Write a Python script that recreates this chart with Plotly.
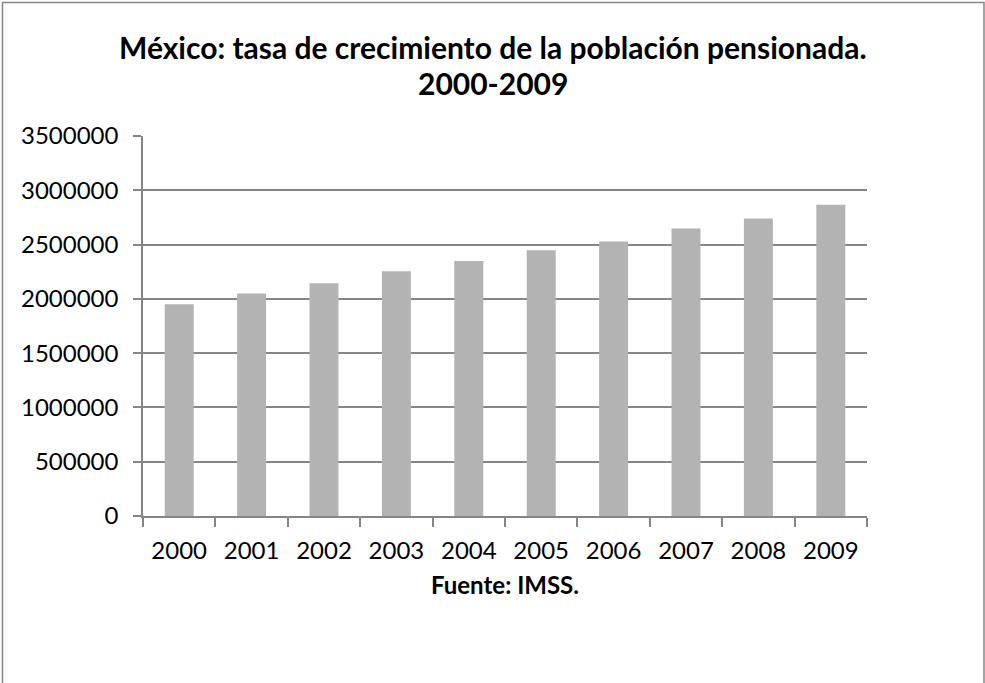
import plotly.graph_objects as go

# Pensioned population (IMSS), 2000-2009
years = ["2000", "2001", "2002", "2003", "2004", "2005", "2006", "2007", "2008", "2009"]
pensionados = [1950000, 2050000, 2143000, 2255000, 2348000, 2447000, 2529000, 2649000, 2741000, 2866000]

y_ticks = [0, 500000, 1000000, 1500000, 2000000, 2500000, 3000000, 3500000]

title_lines = ["México: tasa de crecimiento de la población pensionada.", "2000-2009"]
source_text = "Fuente: IMSS."

W, H = 985, 683
ML, MR, MT, MB = 143, 118, 136, 167
pw, ph = W - ML - MR, H - MT - MB
FONT = "Lato, Carlito, sans-serif"

def px_to_paper_x(px):
    return (px - ML) / pw

def px_to_paper_y(py):
    return (H - MB - py) / ph

fig = go.Figure(
    go.Bar(
        x=years,
        y=pensionados,
        marker=dict(color="#B3B3B3", line=dict(width=0)),
        hoverinfo="x+y",
    )
)

# two-line heading, each line placed on its own
title_ann = [
    dict(
        text=f"<b>{line}</b>",
        xref="paper",
        yref="paper",
        x=px_to_paper_x(W / 2),
        y=px_to_paper_y(py),
        xanchor="center",
        yanchor="middle",
        showarrow=False,
        font=dict(family=FONT, size=30, color="#000000"),
    )
    for line, py in zip(title_lines, [47, 83])
]

fig.update_layout(
    width=W,
    height=H,
    margin=dict(l=ML, r=MR, t=MT, b=MB),
    paper_bgcolor="white",
    plot_bgcolor="white",
    font=dict(family=FONT, size=24, color="#000000"),
    bargap=0.6,
    showlegend=False,
    annotations=title_ann,
    xaxis=dict(
        type="category",
        showline=True,
        linecolor="#868686",
        linewidth=1.5,
        ticks="outside",
        tickson="boundaries",
        ticklen=9,
        tickcolor="#868686",
        tickwidth=1.5,
        showgrid=False,
        tickfont=dict(size=24),
        ticklabelstandoff=12,
        title=dict(
            text=f"<b>{source_text}</b>",
            font=dict(size=24),
            standoff=15,
        ),
    ),
    yaxis=dict(
        range=[0, 3500000],
        tickvals=y_ticks,
        tickformat="d",
        showline=True,
        linecolor="#868686",
        linewidth=1.5,
        ticks="outside",
        ticklen=8,
        tickcolor="#868686",
        tickwidth=1.5,
        showgrid=True,
        gridcolor="#868686",
        gridwidth=1.5,
        zeroline=False,
        tickfont=dict(size=24),
        ticklabelstandoff=10,
    ),
    shapes=[
        dict(
            type="rect",
            xref="paper",
            yref="paper",
            x0=px_to_paper_x(2.5),
            x1=px_to_paper_x(984),
            y0=px_to_paper_y(700),
            y1=px_to_paper_y(2.5),
            line=dict(color="#868686", width=1.5),
            fillcolor="rgba(0,0,0,0)",
            layer="above",
        )
    ],
)

fig.write_html("out.html")
